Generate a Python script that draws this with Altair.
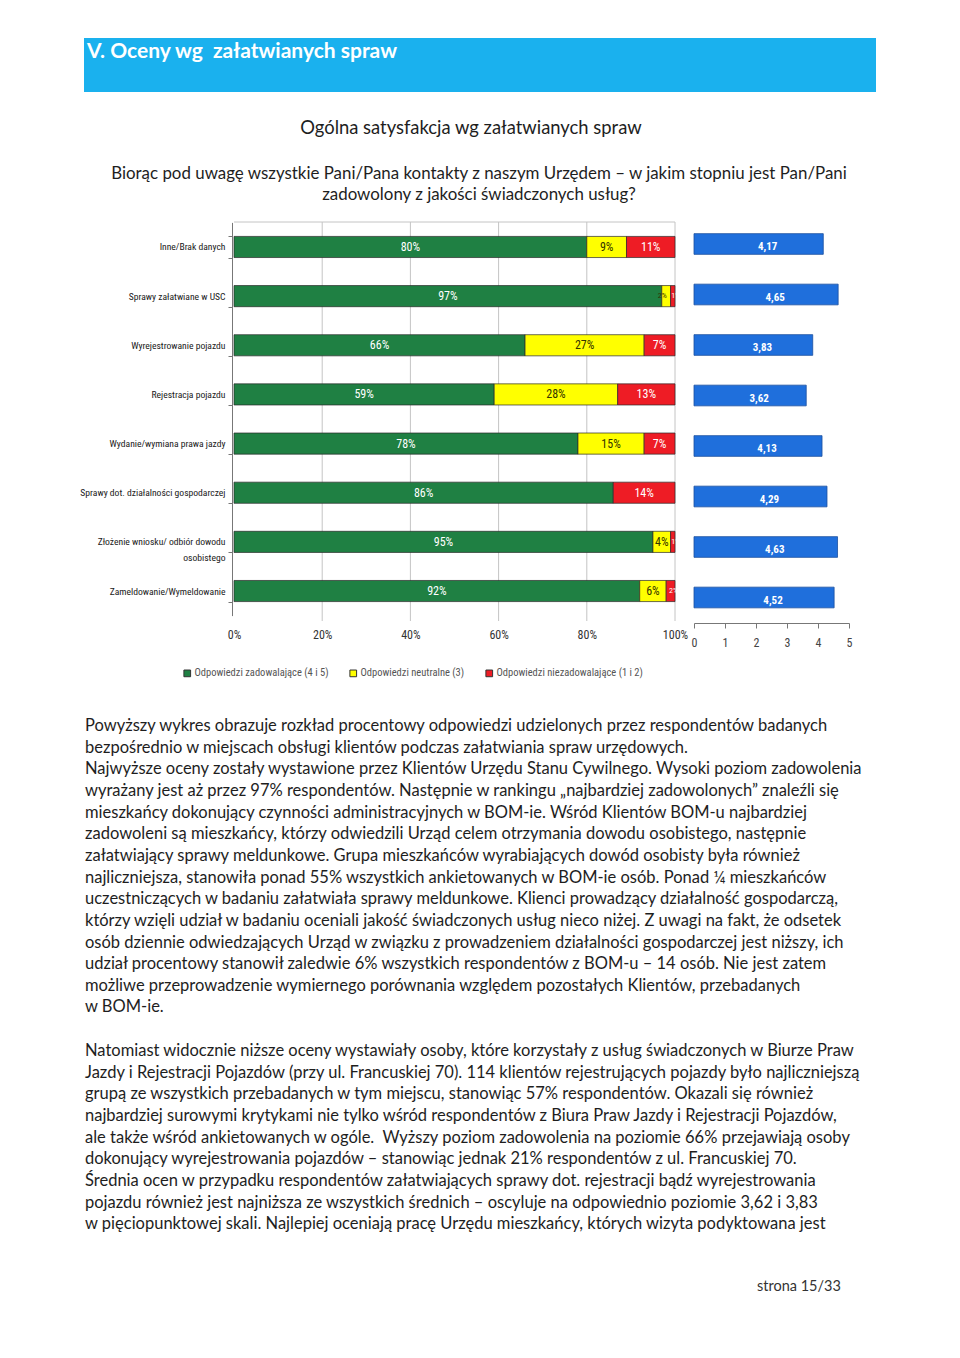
import altair as alt
import pandas as pd

# ---------------- data ----------------
categories = [
    "Inne/Brak danych",
    "Sprawy załatwiane w USC",
    "Wyrejestrowanie pojazdu",
    "Rejestracja pojazdu",
    "Wydanie/wymiana prawa jazdy",
    "Sprawy dot. działalności gospodarczej",
    "Złożenie wniosku/ odbiór dowodu|osobistego",
    "Zameldowanie/Wymeldowanie",
]
satisfied = [80, 97, 66, 59, 78, 86, 95, 92]
neutral = [9, 2, 27, 28, 15, 0, 4, 6]
dissatisfied = [11, 1, 7, 13, 7, 14, 1, 2]
means = [4.17, 4.65, 3.83, 3.62, 4.13, 4.29, 4.63, 4.52]
series = [
    "Odpowiedzi zadowalające (4 i 5)",
    "Odpowiedzi neutralne (3)",
    "Odpowiedzi niezadowalające (1 i 2)",
]
series_colors = ["#1f8043", "#ffff00", "#ee1c25"]
pct_ticks = [0, 0.2, 0.4, 0.6, 0.8, 1.0]
mean_ticks = [0, 1, 2, 3, 4, 5]

header_text = "V. Oceny wg\u00a0 załatwianych spraw"
chart_title = "Ogólna satysfakcja wg załatwianych spraw"
question = [
    "Biorąc pod uwagę wszystkie Pani/Pana kontakty z naszym Urzędem – w jakim stopniu jest Pan/Pani",
    "zadowolony z jakości świadczonych usług?",
]
para1 = [
    "Powyższy wykres obrazuje rozkład procentowy odpowiedzi udzielonych przez respondentów badanych",
    "bezpośrednio w miejscach obsługi klientów podczas załatwiania spraw urzędowych.",
    "Najwyższe oceny zostały wystawione przez Klientów Urzędu Stanu Cywilnego. Wysoki poziom zadowolenia",
    "wyrażany jest aż przez 97% respondentów. Następnie w rankingu „najbardziej zadowolonych” znaleźli się",
    "mieszkańcy dokonujący czynności administracyjnych w BOM-ie. Wśród Klientów BOM-u najbardziej",
    "zadowoleni są mieszkańcy, którzy odwiedzili Urząd celem otrzymania dowodu osobistego, następnie",
    "załatwiający sprawy meldunkowe. Grupa mieszkańców wyrabiających dowód osobisty była również",
    "najliczniejsza, stanowiła ponad 55% wszystkich ankietowanych w BOM-ie osób. Ponad ¼ mieszkańców",
    "uczestniczących w badaniu załatwiała sprawy meldunkowe. Klienci prowadzący działalność gospodarczą,",
    "którzy wzięli udział w badaniu oceniali jakość świadczonych usług nieco niżej. Z uwagi na fakt, że odsetek",
    "osób dziennie odwiedzających Urząd w związku z prowadzeniem działalności gospodarczej jest niższy, ich",
    "udział procentowy stanowił zaledwie 6% wszystkich respondentów z BOM-u – 14 osób. Nie jest zatem",
    "możliwe przeprowadzenie wymiernego porównania względem pozostałych Klientów, przebadanych",
    "w BOM-ie.",
]
para2 = [
    "Natomiast widocznie niższe oceny wystawiały osoby, które korzystały z usług świadczonych w Biurze Praw",
    "Jazdy i Rejestracji Pojazdów (przy ul. Francuskiej 70). 114 klientów rejestrujących pojazdy było najliczniejszą",
    "grupą ze wszystkich przebadanych w tym miejscu, stanowiąc 57% respondentów. Okazali się również",
    "najbardziej surowymi krytykami nie tylko wśród respondentów z Biura Praw Jazdy i Rejestracji Pojazdów,",
    "ale także wśród ankietowanych w ogóle.\u00a0 Wyższy poziom zadowolenia na poziomie 66% przejawiają osoby",
    "dokonujący wyrejestrowania pojazdów – stanowiąc jednak 21% respondentów z ul. Francuskiej 70.",
    "Średnia ocen w przypadku respondentów załatwiających sprawy dot. rejestracji bądź wyrejestrowania",
    "pojazdu również jest najniższa ze wszystkich średnich – oscyluje na odpowiednio poziomie 3,62 i 3,83",
    "w pięciopunktowej skali. Najlepiej oceniają pracę Urzędu mieszkańcy, których wizyta podyktowana jest",
]
footer = "strona 15/33"

# ---------------- derived tables ----------------
rows = []
for i, c in enumerate(categories):
    vals = [satisfied[i], neutral[i], dissatisfied[i]]
    acc = 0
    for s, v in zip(series, vals):
        if v > 0:
            rows.append({"cat": c, "series": s, "start": acc / 100, "end": (acc + v) / 100,
                         "mid": (acc + v / 2) / 100, "label": f"{v}%", "small": v < 3})
        acc += v
seg_df = pd.DataFrame(rows)
mean_df = pd.DataFrame({"cat": categories, "mean": means,
                        "label": [f"{m:.2f}".replace(".", ",") for m in means]})
grid_df = pd.DataFrame({"g": pct_ticks[1:]})
frame_df = pd.DataFrame({"a": [pct_ticks[0]], "b": [pct_ticks[-1]]})
dummy = pd.DataFrame({"d": [0]})

# ---------------- layout ----------------
W, H = 944, 1342


def px(v):
    return v - 8


BODY = "Lato"
NARROW = "Liberation Sans Narrow, Arial Narrow, Roboto Condensed, DejaVu Sans Condensed, Roboto, sans-serif"


def txt(s, x, y, size, align="left", weight="normal", color="#1e1e1e", font=BODY):
    return alt.Chart(dummy).mark_text(
        align=align, baseline="middle", font=font, fontSize=size, fontWeight=weight, color=color
    ).encode(x=alt.value(px(x)), y=alt.value(px(y)), text=alt.value(s))


# header band
header_rect = alt.Chart(dummy).mark_rect(color="#1ab1ee").encode(
    x=alt.value(px(84)), x2=alt.value(px(876)), y=alt.value(px(38)), y2=alt.value(px(92))
)
layers = [header_rect,
          txt(header_text, 87, 52, 21, weight="bold", color="white"),
          txt(chart_title, 471, 128, 18.4, align="center"),
          txt(question[0], 479, 174, 16.9, align="center"),
          txt(question[1], 479, 195, 16.9, align="center")]

# stacked percentage chart
xs = alt.Scale(domain=[0, 1], range=[px(234), px(675)], nice=False, zero=False)
ys = alt.Scale(domain=categories, range=[px(222.4), px(615.6)], paddingInner=0.57, paddingOuter=0.285)

grid = alt.Chart(grid_df).mark_rule(color="#c4c4c4", strokeWidth=1).encode(
    x=alt.X("g:Q", scale=xs, axis=alt.Axis(values=pct_ticks, format="%", orient="bottom",
                                           offset=px(618) - H, domain=False, ticks=False, grid=False,
                                           labelPadding=11, labelFont=NARROW, labelFontSize=12,
                                           labelColor="#333", labelFlush=False, title=None)),
    y=alt.value(px(222)), y2=alt.value(px(621)),
)
frame = alt.Chart(frame_df).mark_rule(color="#c4c4c4", strokeWidth=1).encode(
    x=alt.X("a:Q", scale=xs), x2="b:Q", y=alt.value(px(222))
)
bars = alt.Chart(seg_df).mark_bar(stroke="#2a2a2a", strokeWidth=0.7).encode(
    x=alt.X("start:Q", scale=xs),
    x2="end:Q",
    y=alt.Y("cat:N", scale=ys, sort=categories,
            axis=alt.Axis(orient="left", offset=-px(232), title=None, domainColor="#777",
                          tickColor="#777", tickSize=4, tickBand="extent", labelPadding=3,
                          labelFont=NARROW, labelFontSize=9.6, labelColor="#1a1a1a",
                          labelExpr="split(datum.label, '|')", labelLineHeight=16, labelLimit=300)),
    color=alt.Color("series:N", scale=alt.Scale(domain=series, range=series_colors),
                    legend=alt.Legend(orient="none", legendX=px(182), legendY=px(668), direction="horizontal",
                                      title=None, symbolType="square", symbolSize=45,
                                      symbolStrokeColor="#333", symbolStrokeWidth=1, columnPadding=18,
                                      labelFont=NARROW, labelFontSize=10.5, labelColor="#555",
                                      labelOffset=2, labelLimit=300)),
)


def seg_text(flt, size, dx=0):
    return alt.Chart(seg_df).transform_filter(flt).mark_text(
        font=NARROW, baseline="middle", fontSize=size, dx=dx
    ).encode(
        x=alt.X("mid:Q", scale=xs),
        y=alt.Y("cat:N", scale=ys, sort=categories),
        text="label:N",
        color=alt.condition(alt.datum.series == series[1], alt.value("#333300"), alt.value("white")),
    )


seg_big = seg_text("!datum.small", 12)
seg_small_y = seg_text(f"datum.small && datum.series == '{series[1]}'", 8, dx=-4)
seg_small_r = seg_text(f"datum.small && datum.series == '{series[2]}'", 8, dx=3)
stacked = alt.layer(grid, frame, bars, seg_big, seg_small_y, seg_small_r)

# mean score chart
mxs = alt.Scale(domain=[0, 5], range=[px(694), px(849)], nice=False)
mys = alt.Scale(domain=categories, range=[px(218.75), px(622.75)], paddingInner=0.59, paddingOuter=0.295)
mbars = alt.Chart(mean_df).mark_bar(color="#1f6fdc", stroke="#1a4fa0", strokeWidth=0.8).encode(
    x=alt.X("mean:Q", scale=mxs,
            axis=alt.Axis(values=mean_ticks, orient="bottom", offset=px(623) - H, format="d",
                          domainColor="#777", tickColor="#777", tickSize=5, labelPadding=9,
                          labelFont=NARROW, labelFontSize=12, labelColor="#444", grid=False,
                          labelFlush=False, title=None)),
    y=alt.Y("cat:N", scale=mys, sort=categories, axis=None),
)
mlabels = alt.Chart(mean_df).transform_calculate(half="datum.mean / 2").mark_text(
    font=NARROW, fontSize=11, fontWeight="bold", color="white", baseline="middle", dx=9, dy=3
).encode(
    x=alt.X("half:Q", scale=mxs),
    y=alt.Y("cat:N", scale=mys, sort=categories),
    text="label:N",
)
mean_chart = alt.layer(mbars, mlabels)

layers += [stacked, mean_chart]

# body text
for i, line in enumerate(para1):
    layers.append(txt(line, 85, 726 + i * 21.65, 16.5))
for i, line in enumerate(para2):
    layers.append(txt(line, 85, 1051 + i * 21.65, 16.5))
layers.append(txt(footer, 757, 1287, 14.5, color="#333"))

chart = alt.layer(*layers).resolve_scale(x="independent", y="independent").properties(
    width=W, height=H, autosize=alt.AutoSizeParams(type="none"), padding=0, background="white"
).configure_view(strokeWidth=0, stroke="transparent")

chart.save("out.html", embed_options={"renderer": "svg", "actions": False})
